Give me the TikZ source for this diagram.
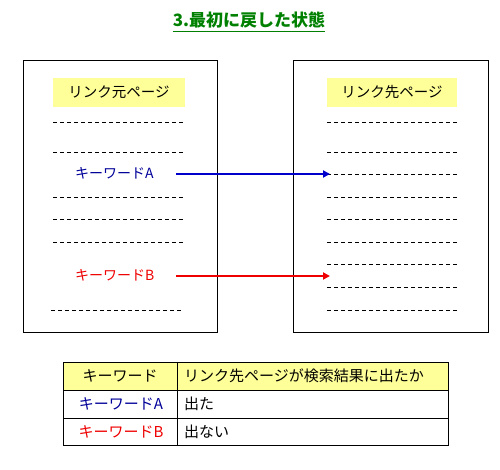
\documentclass[tikz,border=0pt]{standalone}
\usepackage{fontspec}
\setmainfont{Noto Sans CJK JP}
\usetikzlibrary{arrows.meta}
\definecolor{kwblue}{HTML}{000099}
\definecolor{arrblue}{HTML}{0000CC}
\definecolor{kwred}{HTML}{EE0000}
\definecolor{lblyellow}{HTML}{FFFF99}
\definecolor{ttlgreen}{HTML}{008000}
\tikzset{
  page/.style={draw=black, line width=0.8pt},
  lbl/.style={fill=lblyellow, minimum width=132pt, minimum height=29pt, inner sep=0pt, font=\fontsize{14.5}{14.5}\selectfont},
  dline/.style={draw=black, line width=0.8pt, dash pattern=on 4pt off 3pt},
  kw/.style={font=\fontsize{14}{14}\selectfont, inner sep=0pt, anchor=west},
  lnk/.style={line width=2pt, -{Triangle[length=7pt,width=7pt]}},
  cell/.style={font=\fontsize{15}{15}\selectfont, inner sep=0pt}
}
\begin{document}
\begin{tikzpicture}[x=1pt,y=-1pt]
\useasboundingbox (0,0) rectangle (500,470);
% title
\node[font=\fontsize{17}{17}\selectfont\bfseries, text=ttlgreen, inner sep=0pt] (title) at (249,20) {3.最初に戻した状態};
\draw[ttlgreen, line width=1pt] (title.south west) ++(0,3) coordinate (ul1) -- (ul1 -| title.south east);
% pages
\draw[page] (23,60) rectangle (217,332);
\draw[page] (293,60) rectangle (488,332);
\node[lbl] (src) at (119,92.5) {リンク元ページ};
\node[lbl, minimum width=130pt] (dst) at (392,92.5) {リンク先ページ};
% left dashes
\foreach \y in {122,152,197,219,242} { \draw[dline] (53,\y) -- (185,\y); }
\draw[dline] (51,310) -- (182,310);
% right dashes
\foreach \y in {122,152,174,197,219,242,264,287,310} { \draw[dline] (327,\y) -- (457,\y); }
% keywords
\node[kw, text=kwblue] (kwa) at (75,173) {キーワードA};
\node[kw, text=kwred] (kwb) at (75,275) {キーワードB};
\coordinate (ta) at (330,174);
\coordinate (tb) at (330,276);
\draw[lnk, arrblue] (176,174) -- (ta);
\draw[lnk, kwred] (176,276) -- (tb);
% table
\fill[lblyellow] (63,362) rectangle (448,390);
\draw[line width=0.8pt] (63,362) rectangle (448,445);
\draw[line width=0.8pt] (63,390) -- (448,390);
\draw[line width=0.8pt] (63,418) -- (448,418);
\draw[line width=0.8pt] (177,362) -- (177,445);
\node[cell] (h1) at (120,376) {キーワード};
\node[cell, anchor=west] (h2) at (184,376) {リンク先ページが検索結果に出たか};
\node[cell, text=kwblue] (r1) at (121,404) {キーワードA};
\node[cell, anchor=west] (r1b) at (184,404) {出た};
\node[cell, text=kwred] (r2) at (121,432) {キーワードB};
\node[cell, anchor=west] (r2b) at (184,432) {出ない};
\end{tikzpicture}
\end{document}
